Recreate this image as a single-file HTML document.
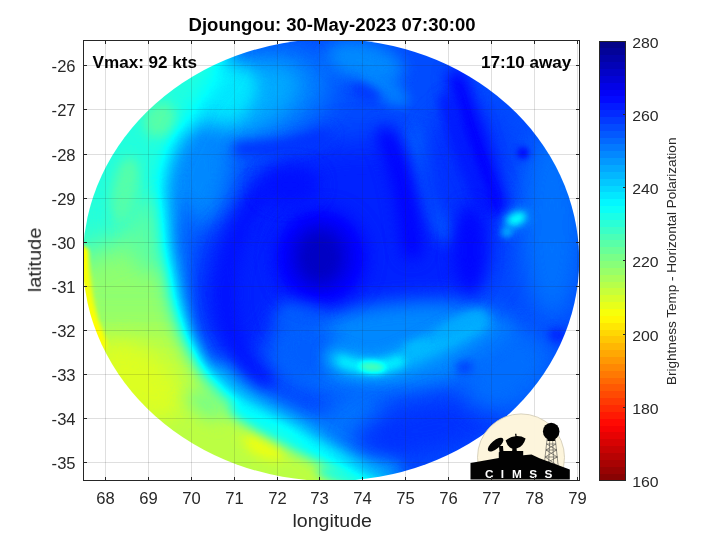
<!DOCTYPE html>
<html><head><meta charset="utf-8"><title>Djoungou</title>
<style>
html,body{margin:0;padding:0;background:#fff;}
body{width:720px;height:540px;overflow:hidden;font-family:"Liberation Sans",sans-serif;}
svg{display:block;position:absolute;left:0;top:0;}
text{font-family:"Liberation Sans",sans-serif;fill:#262626;}
.b{font-weight:bold;fill:#000;}
</style></head><body>
<svg width="720" height="540" viewBox="0 0 720 540">
<defs>

<filter id="cm" x="0" y="0" width="720" height="540" filterUnits="userSpaceOnUse" color-interpolation-filters="sRGB">
<feComponentTransfer><feFuncR type="table" tableValues="0.000 0.000 0.000 0.000 0.000 0.000 0.000 0.000 0.000 0.000 0.000 0.000 0.000 0.000 0.000 0.000 0.000 0.000 0.000 0.000 0.000 0.000 0.000 0.000 0.000 0.000 0.000 0.000 0.000 0.000 0.000 0.050 0.100 0.150 0.200 0.250 0.300 0.350 0.400 0.450 0.500 0.550 0.600 0.650 0.700 0.750 0.800 0.850 0.900 0.950 1.000 1.000 1.000 1.000 1.000 1.000 1.000 1.000 1.000 1.000 1.000"/><feFuncG type="table" tableValues="0.000 0.000 0.000 0.000 0.000 0.000 0.000 0.000 0.000 0.000 0.000 0.050 0.100 0.150 0.200 0.250 0.300 0.350 0.400 0.450 0.500 0.550 0.600 0.650 0.700 0.750 0.800 0.850 0.900 0.950 1.000 1.000 1.000 1.000 1.000 1.000 1.000 1.000 1.000 1.000 1.000 1.000 1.000 1.000 1.000 1.000 1.000 1.000 1.000 1.000 1.000 0.950 0.900 0.850 0.800 0.750 0.700 0.650 0.600 0.550 0.500"/><feFuncB type="table" tableValues="0.500 0.550 0.600 0.650 0.700 0.750 0.800 0.850 0.900 0.950 1.000 1.000 1.000 1.000 1.000 1.000 1.000 1.000 1.000 1.000 1.000 1.000 1.000 1.000 1.000 1.000 1.000 1.000 1.000 1.000 1.000 0.950 0.900 0.850 0.800 0.750 0.700 0.650 0.600 0.550 0.500 0.450 0.400 0.350 0.300 0.250 0.200 0.150 0.100 0.050 0.000 0.000 0.000 0.000 0.000 0.000 0.000 0.000 0.000 0.000 0.000"/></feComponentTransfer></filter>
<filter id="b1" x="-100" y="-100" width="920" height="740" filterUnits="userSpaceOnUse" color-interpolation-filters="sRGB"><feGaussianBlur stdDeviation="1"/></filter>
<filter id="b2" x="-100" y="-100" width="920" height="740" filterUnits="userSpaceOnUse" color-interpolation-filters="sRGB"><feGaussianBlur stdDeviation="2"/></filter>
<filter id="b3" x="-100" y="-100" width="920" height="740" filterUnits="userSpaceOnUse" color-interpolation-filters="sRGB"><feGaussianBlur stdDeviation="3"/></filter>
<filter id="b4" x="-100" y="-100" width="920" height="740" filterUnits="userSpaceOnUse" color-interpolation-filters="sRGB"><feGaussianBlur stdDeviation="4"/></filter>
<filter id="b5" x="-100" y="-100" width="920" height="740" filterUnits="userSpaceOnUse" color-interpolation-filters="sRGB"><feGaussianBlur stdDeviation="5"/></filter>
<filter id="b6" x="-100" y="-100" width="920" height="740" filterUnits="userSpaceOnUse" color-interpolation-filters="sRGB"><feGaussianBlur stdDeviation="6"/></filter>
<filter id="b7" x="-100" y="-100" width="920" height="740" filterUnits="userSpaceOnUse" color-interpolation-filters="sRGB"><feGaussianBlur stdDeviation="7"/></filter>
<filter id="b8" x="-100" y="-100" width="920" height="740" filterUnits="userSpaceOnUse" color-interpolation-filters="sRGB"><feGaussianBlur stdDeviation="8"/></filter>
<filter id="b9" x="-100" y="-100" width="920" height="740" filterUnits="userSpaceOnUse" color-interpolation-filters="sRGB"><feGaussianBlur stdDeviation="9"/></filter>
<filter id="b10" x="-100" y="-100" width="920" height="740" filterUnits="userSpaceOnUse" color-interpolation-filters="sRGB"><feGaussianBlur stdDeviation="10"/></filter>
<filter id="b11" x="-100" y="-100" width="920" height="740" filterUnits="userSpaceOnUse" color-interpolation-filters="sRGB"><feGaussianBlur stdDeviation="11"/></filter>
<filter id="b12" x="-100" y="-100" width="920" height="740" filterUnits="userSpaceOnUse" color-interpolation-filters="sRGB"><feGaussianBlur stdDeviation="12"/></filter>
<filter id="b13" x="-100" y="-100" width="920" height="740" filterUnits="userSpaceOnUse" color-interpolation-filters="sRGB"><feGaussianBlur stdDeviation="13"/></filter>
<filter id="b14" x="-100" y="-100" width="920" height="740" filterUnits="userSpaceOnUse" color-interpolation-filters="sRGB"><feGaussianBlur stdDeviation="14"/></filter>
<filter id="b15" x="-100" y="-100" width="920" height="740" filterUnits="userSpaceOnUse" color-interpolation-filters="sRGB"><feGaussianBlur stdDeviation="15"/></filter>
<filter id="b16" x="-100" y="-100" width="920" height="740" filterUnits="userSpaceOnUse" color-interpolation-filters="sRGB"><feGaussianBlur stdDeviation="16"/></filter>
<filter id="b17" x="-100" y="-100" width="920" height="740" filterUnits="userSpaceOnUse" color-interpolation-filters="sRGB"><feGaussianBlur stdDeviation="17"/></filter>
<filter id="b18" x="-100" y="-100" width="920" height="740" filterUnits="userSpaceOnUse" color-interpolation-filters="sRGB"><feGaussianBlur stdDeviation="18"/></filter>
<filter id="b19" x="-100" y="-100" width="920" height="740" filterUnits="userSpaceOnUse" color-interpolation-filters="sRGB"><feGaussianBlur stdDeviation="19"/></filter>
<filter id="b20" x="-100" y="-100" width="920" height="740" filterUnits="userSpaceOnUse" color-interpolation-filters="sRGB"><feGaussianBlur stdDeviation="20"/></filter>
<clipPath id="disk"><ellipse cx="331" cy="260" rx="248.2" ry="221"/></clipPath>
<clipPath id="axc"><rect x="83.5" y="40.5" width="496" height="440"/></clipPath>
<linearGradient id="cbg" x1="0" y1="0" x2="0" y2="1"><stop offset="0.00000" stop-color="rgb(0,0,135)"/><stop offset="0.01562" stop-color="rgb(0,0,135)"/><stop offset="0.01562" stop-color="rgb(0,0,151)"/><stop offset="0.03125" stop-color="rgb(0,0,151)"/><stop offset="0.03125" stop-color="rgb(0,0,167)"/><stop offset="0.04688" stop-color="rgb(0,0,167)"/><stop offset="0.04688" stop-color="rgb(0,0,183)"/><stop offset="0.06250" stop-color="rgb(0,0,183)"/><stop offset="0.06250" stop-color="rgb(0,0,199)"/><stop offset="0.07812" stop-color="rgb(0,0,199)"/><stop offset="0.07812" stop-color="rgb(0,0,215)"/><stop offset="0.09375" stop-color="rgb(0,0,215)"/><stop offset="0.09375" stop-color="rgb(0,0,231)"/><stop offset="0.10938" stop-color="rgb(0,0,231)"/><stop offset="0.10938" stop-color="rgb(0,0,247)"/><stop offset="0.12500" stop-color="rgb(0,0,247)"/><stop offset="0.12500" stop-color="rgb(0,8,255)"/><stop offset="0.14062" stop-color="rgb(0,8,255)"/><stop offset="0.14062" stop-color="rgb(0,24,255)"/><stop offset="0.15625" stop-color="rgb(0,24,255)"/><stop offset="0.15625" stop-color="rgb(0,40,255)"/><stop offset="0.17188" stop-color="rgb(0,40,255)"/><stop offset="0.17188" stop-color="rgb(0,56,255)"/><stop offset="0.18750" stop-color="rgb(0,56,255)"/><stop offset="0.18750" stop-color="rgb(0,72,255)"/><stop offset="0.20312" stop-color="rgb(0,72,255)"/><stop offset="0.20312" stop-color="rgb(0,88,255)"/><stop offset="0.21875" stop-color="rgb(0,88,255)"/><stop offset="0.21875" stop-color="rgb(0,104,255)"/><stop offset="0.23438" stop-color="rgb(0,104,255)"/><stop offset="0.23438" stop-color="rgb(0,120,255)"/><stop offset="0.25000" stop-color="rgb(0,120,255)"/><stop offset="0.25000" stop-color="rgb(0,135,255)"/><stop offset="0.26562" stop-color="rgb(0,135,255)"/><stop offset="0.26562" stop-color="rgb(0,151,255)"/><stop offset="0.28125" stop-color="rgb(0,151,255)"/><stop offset="0.28125" stop-color="rgb(0,167,255)"/><stop offset="0.29688" stop-color="rgb(0,167,255)"/><stop offset="0.29688" stop-color="rgb(0,183,255)"/><stop offset="0.31250" stop-color="rgb(0,183,255)"/><stop offset="0.31250" stop-color="rgb(0,199,255)"/><stop offset="0.32812" stop-color="rgb(0,199,255)"/><stop offset="0.32812" stop-color="rgb(0,215,255)"/><stop offset="0.34375" stop-color="rgb(0,215,255)"/><stop offset="0.34375" stop-color="rgb(0,231,255)"/><stop offset="0.35938" stop-color="rgb(0,231,255)"/><stop offset="0.35938" stop-color="rgb(0,247,255)"/><stop offset="0.37500" stop-color="rgb(0,247,255)"/><stop offset="0.37500" stop-color="rgb(8,255,247)"/><stop offset="0.39062" stop-color="rgb(8,255,247)"/><stop offset="0.39062" stop-color="rgb(24,255,231)"/><stop offset="0.40625" stop-color="rgb(24,255,231)"/><stop offset="0.40625" stop-color="rgb(40,255,215)"/><stop offset="0.42188" stop-color="rgb(40,255,215)"/><stop offset="0.42188" stop-color="rgb(56,255,199)"/><stop offset="0.43750" stop-color="rgb(56,255,199)"/><stop offset="0.43750" stop-color="rgb(72,255,183)"/><stop offset="0.45312" stop-color="rgb(72,255,183)"/><stop offset="0.45312" stop-color="rgb(88,255,167)"/><stop offset="0.46875" stop-color="rgb(88,255,167)"/><stop offset="0.46875" stop-color="rgb(104,255,151)"/><stop offset="0.48438" stop-color="rgb(104,255,151)"/><stop offset="0.48438" stop-color="rgb(120,255,135)"/><stop offset="0.50000" stop-color="rgb(120,255,135)"/><stop offset="0.50000" stop-color="rgb(135,255,120)"/><stop offset="0.51562" stop-color="rgb(135,255,120)"/><stop offset="0.51562" stop-color="rgb(151,255,104)"/><stop offset="0.53125" stop-color="rgb(151,255,104)"/><stop offset="0.53125" stop-color="rgb(167,255,88)"/><stop offset="0.54688" stop-color="rgb(167,255,88)"/><stop offset="0.54688" stop-color="rgb(183,255,72)"/><stop offset="0.56250" stop-color="rgb(183,255,72)"/><stop offset="0.56250" stop-color="rgb(199,255,56)"/><stop offset="0.57812" stop-color="rgb(199,255,56)"/><stop offset="0.57812" stop-color="rgb(215,255,40)"/><stop offset="0.59375" stop-color="rgb(215,255,40)"/><stop offset="0.59375" stop-color="rgb(231,255,24)"/><stop offset="0.60938" stop-color="rgb(231,255,24)"/><stop offset="0.60938" stop-color="rgb(247,255,8)"/><stop offset="0.62500" stop-color="rgb(247,255,8)"/><stop offset="0.62500" stop-color="rgb(255,247,0)"/><stop offset="0.64062" stop-color="rgb(255,247,0)"/><stop offset="0.64062" stop-color="rgb(255,231,0)"/><stop offset="0.65625" stop-color="rgb(255,231,0)"/><stop offset="0.65625" stop-color="rgb(255,215,0)"/><stop offset="0.67188" stop-color="rgb(255,215,0)"/><stop offset="0.67188" stop-color="rgb(255,199,0)"/><stop offset="0.68750" stop-color="rgb(255,199,0)"/><stop offset="0.68750" stop-color="rgb(255,183,0)"/><stop offset="0.70312" stop-color="rgb(255,183,0)"/><stop offset="0.70312" stop-color="rgb(255,167,0)"/><stop offset="0.71875" stop-color="rgb(255,167,0)"/><stop offset="0.71875" stop-color="rgb(255,151,0)"/><stop offset="0.73438" stop-color="rgb(255,151,0)"/><stop offset="0.73438" stop-color="rgb(255,135,0)"/><stop offset="0.75000" stop-color="rgb(255,135,0)"/><stop offset="0.75000" stop-color="rgb(255,120,0)"/><stop offset="0.76562" stop-color="rgb(255,120,0)"/><stop offset="0.76562" stop-color="rgb(255,104,0)"/><stop offset="0.78125" stop-color="rgb(255,104,0)"/><stop offset="0.78125" stop-color="rgb(255,88,0)"/><stop offset="0.79688" stop-color="rgb(255,88,0)"/><stop offset="0.79688" stop-color="rgb(255,72,0)"/><stop offset="0.81250" stop-color="rgb(255,72,0)"/><stop offset="0.81250" stop-color="rgb(255,56,0)"/><stop offset="0.82812" stop-color="rgb(255,56,0)"/><stop offset="0.82812" stop-color="rgb(255,40,0)"/><stop offset="0.84375" stop-color="rgb(255,40,0)"/><stop offset="0.84375" stop-color="rgb(255,24,0)"/><stop offset="0.85938" stop-color="rgb(255,24,0)"/><stop offset="0.85938" stop-color="rgb(255,8,0)"/><stop offset="0.87500" stop-color="rgb(255,8,0)"/><stop offset="0.87500" stop-color="rgb(247,0,0)"/><stop offset="0.89062" stop-color="rgb(247,0,0)"/><stop offset="0.89062" stop-color="rgb(231,0,0)"/><stop offset="0.90625" stop-color="rgb(231,0,0)"/><stop offset="0.90625" stop-color="rgb(215,0,0)"/><stop offset="0.92188" stop-color="rgb(215,0,0)"/><stop offset="0.92188" stop-color="rgb(199,0,0)"/><stop offset="0.93750" stop-color="rgb(199,0,0)"/><stop offset="0.93750" stop-color="rgb(183,0,0)"/><stop offset="0.95312" stop-color="rgb(183,0,0)"/><stop offset="0.95312" stop-color="rgb(167,0,0)"/><stop offset="0.96875" stop-color="rgb(167,0,0)"/><stop offset="0.96875" stop-color="rgb(151,0,0)"/><stop offset="0.98438" stop-color="rgb(151,0,0)"/><stop offset="0.98438" stop-color="rgb(135,0,0)"/><stop offset="1.00000" stop-color="rgb(135,0,0)"/></linearGradient>
</defs>

<mask id="bodym" maskUnits="userSpaceOnUse" x="0" y="0" width="720" height="540"><path d="M226 66 L212 84 L198 102 L189 124 L175 150 L168 175 L166 200 L168 250 L176 300 L188 340 L205 372 L228 396 L258 414 L290 430 L320 447 L345 460 L370 473 L392 484 L400 530 L660 530 L660 -10 L240 -10 Z" fill="#fff" filter="url(#b10)"/></mask>
<g clip-path="url(#axc)"><g clip-path="url(#disk)"><g filter="url(#cm)">
<rect x="60" y="20" width="540" height="480" fill="#b0b0b0"/>
<path d="M60 20 H300 V150 L175 215 L60 265 Z" fill="#8b8b8b" opacity="1" filter="url(#b16)"/>
<path d="M60 330 L215 330 L300 420 L360 470 L360 520 L60 520 Z" fill="#bebebe" opacity="1" filter="url(#b16)"/>
<path d="M82.7 252 Q82.5 290 91.8 320 L102 346" fill="none" stroke="#d7d7d7" stroke-width="12" stroke-linecap="round" stroke-linejoin="round" opacity="1" filter="url(#b2)"/>
<ellipse cx="80" cy="315" rx="12" ry="50" fill="#cccccc" opacity="0.7" transform="rotate(0 80 315)" filter="url(#b6)"/>
<ellipse cx="138" cy="380" rx="50" ry="30" fill="#c9c9c9" opacity="1" transform="rotate(40 138 380)" filter="url(#b10)"/>
<ellipse cx="264" cy="446" rx="22" ry="11" fill="#cfcfcf" opacity="1" transform="rotate(25 264 446)" filter="url(#b6)"/>
<ellipse cx="205" cy="405" rx="22" ry="10" fill="#a7a7a7" opacity="1" transform="rotate(35 205 405)" filter="url(#b8)"/>
<ellipse cx="160" cy="120" rx="16" ry="18" fill="#9c9c9c" opacity="1" transform="rotate(30 160 120)" filter="url(#b6)"/>
<ellipse cx="125" cy="190" rx="13" ry="34" fill="#9c9c9c" opacity="1" transform="rotate(10 125 190)" filter="url(#b6)"/>
<ellipse cx="150" cy="235" rx="22" ry="40" fill="#9c9c9c" opacity="0.8" transform="rotate(0 150 235)" filter="url(#b10)"/>
<path d="M236 410 Q272 434 320 455 Q350 467 392 482" fill="none" stroke="#8b8b8b" stroke-width="14" stroke-linecap="round" stroke-linejoin="round" opacity="1" filter="url(#b6)"/>
<ellipse cx="352" cy="478" rx="36" ry="9" fill="#8e8e8e" opacity="1" transform="rotate(12 352 478)" filter="url(#b5)"/>
<g mask="url(#bodym)">
<rect x="60" y="20" width="540" height="480" fill="#444444"/>
<ellipse cx="362" cy="235" rx="135" ry="95" fill="#363636" opacity="1" transform="rotate(0 362 235)" filter="url(#b16)"/>
<ellipse cx="240" cy="100" rx="95" ry="50" fill="#555555" opacity="1" transform="rotate(-15 240 100)" filter="url(#b14)"/>
<ellipse cx="240" cy="100" rx="62" ry="32" fill="#636363" opacity="1" transform="rotate(-20 240 100)" filter="url(#b10)"/>
<ellipse cx="218" cy="100" rx="44" ry="28" fill="#777777" opacity="1" transform="rotate(-35 218 100)" filter="url(#b8)"/>
<ellipse cx="200" cy="175" rx="32" ry="55" fill="#585858" opacity="1" transform="rotate(10 200 175)" filter="url(#b12)"/>
<ellipse cx="186" cy="262" rx="10" ry="60" fill="#4c4c4c" opacity="0.9" transform="rotate(0 186 262)" filter="url(#b8)"/>
<ellipse cx="245" cy="285" rx="45" ry="70" fill="#363636" opacity="1" transform="rotate(10 245 285)" filter="url(#b12)"/>
<ellipse cx="365" cy="62" rx="40" ry="20" fill="#5b5b5b" opacity="0.9" transform="rotate(15 365 62)" filter="url(#b8)"/>
<ellipse cx="385" cy="88" rx="28" ry="12" fill="#585858" opacity="0.8" transform="rotate(35 385 88)" filter="url(#b6)"/>
<ellipse cx="366" cy="92" rx="16" ry="7" fill="#3b3b3b" opacity="0.8" transform="rotate(25 366 92)" filter="url(#b5)"/>
<ellipse cx="431" cy="185" rx="13" ry="62" fill="#4f4f4f" opacity="0.95" transform="rotate(-18 431 185)" filter="url(#b8)"/>
<ellipse cx="552" cy="225" rx="30" ry="95" fill="#525252" opacity="0.9" transform="rotate(0 552 225)" filter="url(#b12)"/>
<ellipse cx="400" cy="346" rx="118" ry="44" fill="#585858" opacity="1" transform="rotate(-5 400 346)" filter="url(#b10)"/>
<path d="M222 372 Q252 402 300 424 Q345 442 392 466" fill="none" stroke="#5e5e5e" stroke-width="20" stroke-linecap="round" stroke-linejoin="round" opacity="1" filter="url(#b8)"/>
<ellipse cx="352" cy="428" rx="30" ry="40" fill="#525252" opacity="1" transform="rotate(30 352 428)" filter="url(#b12)"/>
<path d="M240 149 Q285 150 325 136" fill="none" stroke="#3b3b3b" stroke-width="14" stroke-linecap="round" stroke-linejoin="round" opacity="1" filter="url(#b6)"/>
<path d="M262 192 Q208 270 234 340 Q244 364 266 378" fill="none" stroke="#303030" stroke-width="18" stroke-linecap="round" stroke-linejoin="round" opacity="1" filter="url(#b8)"/>
<ellipse cx="305" cy="350" rx="32" ry="36" fill="#4a4a4a" opacity="1" transform="rotate(-20 305 350)" filter="url(#b10)"/>
<ellipse cx="300" cy="314" rx="26" ry="16" fill="#4a4a4a" opacity="1" transform="rotate(-10 300 314)" filter="url(#b8)"/>
<ellipse cx="321" cy="257" rx="44" ry="46" fill="#282828" opacity="1" transform="rotate(0 321 257)" filter="url(#b10)"/>
<ellipse cx="320" cy="257" rx="24" ry="28" fill="#171717" opacity="1" transform="rotate(0 320 257)" filter="url(#b8)"/>
<ellipse cx="462" cy="165" rx="40" ry="60" fill="#3b3b3b" opacity="1" transform="rotate(15 462 165)" filter="url(#b14)"/>
<path d="M457 78 Q474 140 497 207" fill="none" stroke="#282828" stroke-width="18" stroke-linecap="round" stroke-linejoin="round" opacity="1" filter="url(#b8)"/>
<path d="M446 100 Q458 150 482 200" fill="none" stroke="#333333" stroke-width="14" stroke-linecap="round" stroke-linejoin="round" opacity="1" filter="url(#b6)"/>
<path d="M385 135 Q405 170 412 250" fill="none" stroke="#2a2a2a" stroke-width="18" stroke-linecap="round" stroke-linejoin="round" opacity="1" filter="url(#b8)"/>
<ellipse cx="470" cy="250" rx="16" ry="45" fill="#2d2d2d" opacity="1" transform="rotate(0 470 250)" filter="url(#b8)"/>
<ellipse cx="290" cy="185" rx="30" ry="20" fill="#303030" opacity="1" transform="rotate(0 290 185)" filter="url(#b8)"/>
<ellipse cx="467" cy="368" rx="10" ry="7" fill="#363636" opacity="1" transform="rotate(0 467 368)" filter="url(#b5)"/>
<ellipse cx="556" cy="336" rx="9" ry="7" fill="#333333" opacity="1" transform="rotate(0 556 336)" filter="url(#b4)"/>
<ellipse cx="523" cy="153" rx="6" ry="6" fill="#2d2d2d" opacity="1" transform="rotate(0 523 153)" filter="url(#b3)"/>
<ellipse cx="430" cy="428" rx="80" ry="26" fill="#3b3b3b" opacity="1" transform="rotate(-12 430 428)" filter="url(#b12)"/>
<ellipse cx="508" cy="372" rx="50" ry="36" fill="#4f4f4f" opacity="1" transform="rotate(-35 508 372)" filter="url(#b12)"/>
<path d="M335 358 Q372 376 404 359 Q440 345 478 322" fill="none" stroke="#696969" stroke-width="20" stroke-linecap="round" stroke-linejoin="round" opacity="1" filter="url(#b7)"/>
<path d="M342 361 Q370 373 400 361" fill="none" stroke="#7d7d7d" stroke-width="10" stroke-linecap="round" stroke-linejoin="round" opacity="1" filter="url(#b4)"/>
<ellipse cx="372" cy="367" rx="13" ry="5" fill="#999999" opacity="1" transform="rotate(5 372 367)" filter="url(#b3)"/>
<ellipse cx="460" cy="326" rx="28" ry="8" fill="#636363" opacity="1" transform="rotate(-25 460 326)" filter="url(#b5)"/>
<ellipse cx="416" cy="347" rx="14" ry="6" fill="#696969" opacity="1" transform="rotate(-20 416 347)" filter="url(#b4)"/>
<ellipse cx="516" cy="219" rx="14" ry="9" fill="#606060" opacity="1" transform="rotate(-25 516 219)" filter="url(#b5)"/>
<ellipse cx="516.5" cy="219" rx="9" ry="5" fill="#828282" opacity="1" transform="rotate(-25 516.5 219)" filter="url(#b3)"/>
<ellipse cx="507" cy="232" rx="6" ry="5" fill="#666666" opacity="1" transform="rotate(-30 507 232)" filter="url(#b3)"/>
</g>
</g></g></g>

<path d="M105.5 40.5 V480.5 M148.5 40.5 V480.5 M191.5 40.5 V480.5 M234.5 40.5 V480.5 M277.5 40.5 V480.5 M319.5 40.5 V480.5 M362.5 40.5 V480.5 M405.5 40.5 V480.5 M448.5 40.5 V480.5 M491.5 40.5 V480.5 M534.5 40.5 V480.5 M577.5 40.5 V480.5" stroke="rgba(38,38,38,0.15)" stroke-width="1" fill="none" shape-rendering="crispEdges"/><path d="M83.5 65.5 H579.5 M83.5 109.5 H579.5 M83.5 154.5 H579.5 M83.5 198.5 H579.5 M83.5 242.5 H579.5 M83.5 286.5 H579.5 M83.5 330.5 H579.5 M83.5 374.5 H579.5 M83.5 418.5 H579.5 M83.5 462.5 H579.5" stroke="rgba(38,38,38,0.15)" stroke-width="1" fill="none" shape-rendering="crispEdges"/>
<g id="logo" opacity="0.99"><clipPath id="lgc"><rect x="460" y="400" width="130" height="79.6"/></clipPath>
<circle cx="521" cy="457.4" r="43.5" fill="#fdf5dc" stroke="#cfc8b0" stroke-width="0.8" clip-path="url(#lgc)"/>
<g stroke="#2a2a2a" stroke-width="0.5" fill="none">
<path d="M547.2 438 L544.3 464 M549.8 439 L548.6 464 M552.6 439 L553.8 466 M555.2 438 L558.4 468"/>
<path d="M546.6 444 L555.9 444 M546 450 L556.6 450 M545.2 457 L557.4 457 M546.6 444 L556.6 450 L545.2 457 M555.9 444 L546 450 L557.4 457 L544.5 464 M545.2 457 L558 466"/>
</g>
<ellipse cx="551.2" cy="431.4" rx="8.3" ry="8.7" fill="#000"/>
<rect x="547.5" y="438" width="7.4" height="3" fill="#000"/>
<ellipse cx="495.6" cy="444.6" rx="9.6" ry="4.1" fill="#000" transform="rotate(-40 495.6 444.6)"/>
<path d="M499 446 L503 446 L503.5 453 L499.5 453 Z" fill="#000"/>
<path d="M505.6 440.6 Q510 436.8 515.4 436.2 L515 433.8 L516.4 433.8 L516.6 436.1 Q521.5 436 525.6 438.4 Q523.5 446.5 516.5 448.6 L517 452 L512 452 L512.4 448.8 Q507.5 447 505.6 440.6 Z" fill="#000"/>
<path d="M470.5 463.1 L498.8 457.9 L498.8 452.3 L503.3 451 L523.2 451 L523.2 455.2 L531.5 454.6 L539.5 458.3 L569.8 469.6 L569.8 479.6 L470.5 479.6 Z" fill="#000"/>
<g font-family="Liberation Sans, sans-serif" font-weight="bold" font-size="11.8" text-anchor="middle" style="fill:#fff">
<text x="489.3" y="477.6" style="fill:#fff">C</text><text x="502.3" y="477.6" style="fill:#fff">I</text><text x="516.9" y="477.6" style="fill:#fff">M</text><text x="533.1" y="477.6" style="fill:#fff">S</text><text x="548.5" y="477.6" style="fill:#fff">S</text>
</g>
</g>

<path d="M105.5 480.5 v-3.5 M105.5 40.5 v3.5 M148.5 480.5 v-3.5 M148.5 40.5 v3.5 M191.5 480.5 v-3.5 M191.5 40.5 v3.5 M234.5 480.5 v-3.5 M234.5 40.5 v3.5 M277.5 480.5 v-3.5 M277.5 40.5 v3.5 M319.5 480.5 v-3.5 M319.5 40.5 v3.5 M362.5 480.5 v-3.5 M362.5 40.5 v3.5 M405.5 480.5 v-3.5 M405.5 40.5 v3.5 M448.5 480.5 v-3.5 M448.5 40.5 v3.5 M491.5 480.5 v-3.5 M491.5 40.5 v3.5 M534.5 480.5 v-3.5 M534.5 40.5 v3.5 M577.5 480.5 v-3.5 M577.5 40.5 v3.5 M83.5 65.5 h3.5 M579.5 65.5 h-3.5 M83.5 109.5 h3.5 M579.5 109.5 h-3.5 M83.5 154.5 h3.5 M579.5 154.5 h-3.5 M83.5 198.5 h3.5 M579.5 198.5 h-3.5 M83.5 242.5 h3.5 M579.5 242.5 h-3.5 M83.5 286.5 h3.5 M579.5 286.5 h-3.5 M83.5 330.5 h3.5 M579.5 330.5 h-3.5 M83.5 374.5 h3.5 M579.5 374.5 h-3.5 M83.5 418.5 h3.5 M579.5 418.5 h-3.5 M83.5 462.5 h3.5 M579.5 462.5 h-3.5" stroke="#262626" stroke-width="1" fill="none" shape-rendering="crispEdges"/>
<rect x="83.5" y="40.5" width="496" height="440" fill="none" stroke="#262626" stroke-width="1" shape-rendering="crispEdges"/>
<g opacity="0.99">
<text x="105.6" y="504.2" font-size="16.6" text-anchor="middle">68</text>
<text x="148.6" y="504.2" font-size="16.6" text-anchor="middle">69</text>
<text x="191.6" y="504.2" font-size="16.6" text-anchor="middle">70</text>
<text x="234.6" y="504.2" font-size="16.6" text-anchor="middle">71</text>
<text x="277.6" y="504.2" font-size="16.6" text-anchor="middle">72</text>
<text x="319.6" y="504.2" font-size="16.6" text-anchor="middle">73</text>
<text x="362.6" y="504.2" font-size="16.6" text-anchor="middle">74</text>
<text x="405.6" y="504.2" font-size="16.6" text-anchor="middle">75</text>
<text x="448.6" y="504.2" font-size="16.6" text-anchor="middle">76</text>
<text x="491.6" y="504.2" font-size="16.6" text-anchor="middle">77</text>
<text x="534.6" y="504.2" font-size="16.6" text-anchor="middle">78</text>
<text x="577.6" y="504.2" font-size="16.6" text-anchor="middle">79</text>
<text x="75.6" y="71.7" font-size="16.6" text-anchor="end">-26</text>
<text x="75.6" y="115.7" font-size="16.6" text-anchor="end">-27</text>
<text x="75.6" y="160.7" font-size="16.6" text-anchor="end">-28</text>
<text x="75.6" y="204.7" font-size="16.6" text-anchor="end">-29</text>
<text x="75.6" y="248.7" font-size="16.6" text-anchor="end">-30</text>
<text x="75.6" y="292.7" font-size="16.6" text-anchor="end">-31</text>
<text x="75.6" y="336.7" font-size="16.6" text-anchor="end">-32</text>
<text x="75.6" y="380.7" font-size="16.6" text-anchor="end">-33</text>
<text x="75.6" y="424.7" font-size="16.6" text-anchor="end">-34</text>
<text x="75.6" y="468.7" font-size="16.6" text-anchor="end">-35</text>
<text class="b" x="188.6" y="31.2" font-size="17.6" textLength="287" lengthAdjust="spacingAndGlyphs">Djoungou: 30-May-2023 07:30:00</text>
<text class="b" x="92.6" y="67.5" font-size="16" textLength="104.4" lengthAdjust="spacingAndGlyphs">Vmax: 92 kts</text>
<text class="b" x="481" y="67.5" font-size="16" textLength="90.4" lengthAdjust="spacingAndGlyphs">17:10 away</text>
<text x="292.4" y="527" font-size="17.6" textLength="79.6" lengthAdjust="spacingAndGlyphs">longitude</text>
<text transform="translate(40.9 292.2) rotate(-90)" font-size="17.6" textLength="64.6" lengthAdjust="spacingAndGlyphs">latitude</text>
<rect x="599.5" y="41.5" width="26" height="439" fill="url(#cbg)" stroke="#262626" stroke-width="1" shape-rendering="crispEdges"/>
<text x="632.2" y="47.8" font-size="14.8" textLength="26.4" lengthAdjust="spacingAndGlyphs">280</text>
<text x="632.2" y="121.0" font-size="14.8" textLength="26.4" lengthAdjust="spacingAndGlyphs">260</text>
<text x="632.2" y="194.1" font-size="14.8" textLength="26.4" lengthAdjust="spacingAndGlyphs">240</text>
<text x="632.2" y="267.3" font-size="14.8" textLength="26.4" lengthAdjust="spacingAndGlyphs">220</text>
<text x="632.2" y="340.5" font-size="14.8" textLength="26.4" lengthAdjust="spacingAndGlyphs">200</text>
<text x="632.2" y="413.6" font-size="14.8" textLength="26.4" lengthAdjust="spacingAndGlyphs">180</text>
<text x="632.2" y="486.8" font-size="14.8" textLength="26.4" lengthAdjust="spacingAndGlyphs">160</text>
<path d="M625.5 114.5 h-3 M625.5 187.5 h-3 M625.5 260.5 h-3 M625.5 334.5 h-3 M625.5 407.5 h-3" stroke="#262626" stroke-width="1" fill="none" shape-rendering="crispEdges"/>
<text transform="translate(676.3 385) rotate(-90)" font-size="12.6" textLength="247.4" lengthAdjust="spacingAndGlyphs">Brightness Temp - Horizontal Polarization</text>
</g>
</svg>
</body></html>
